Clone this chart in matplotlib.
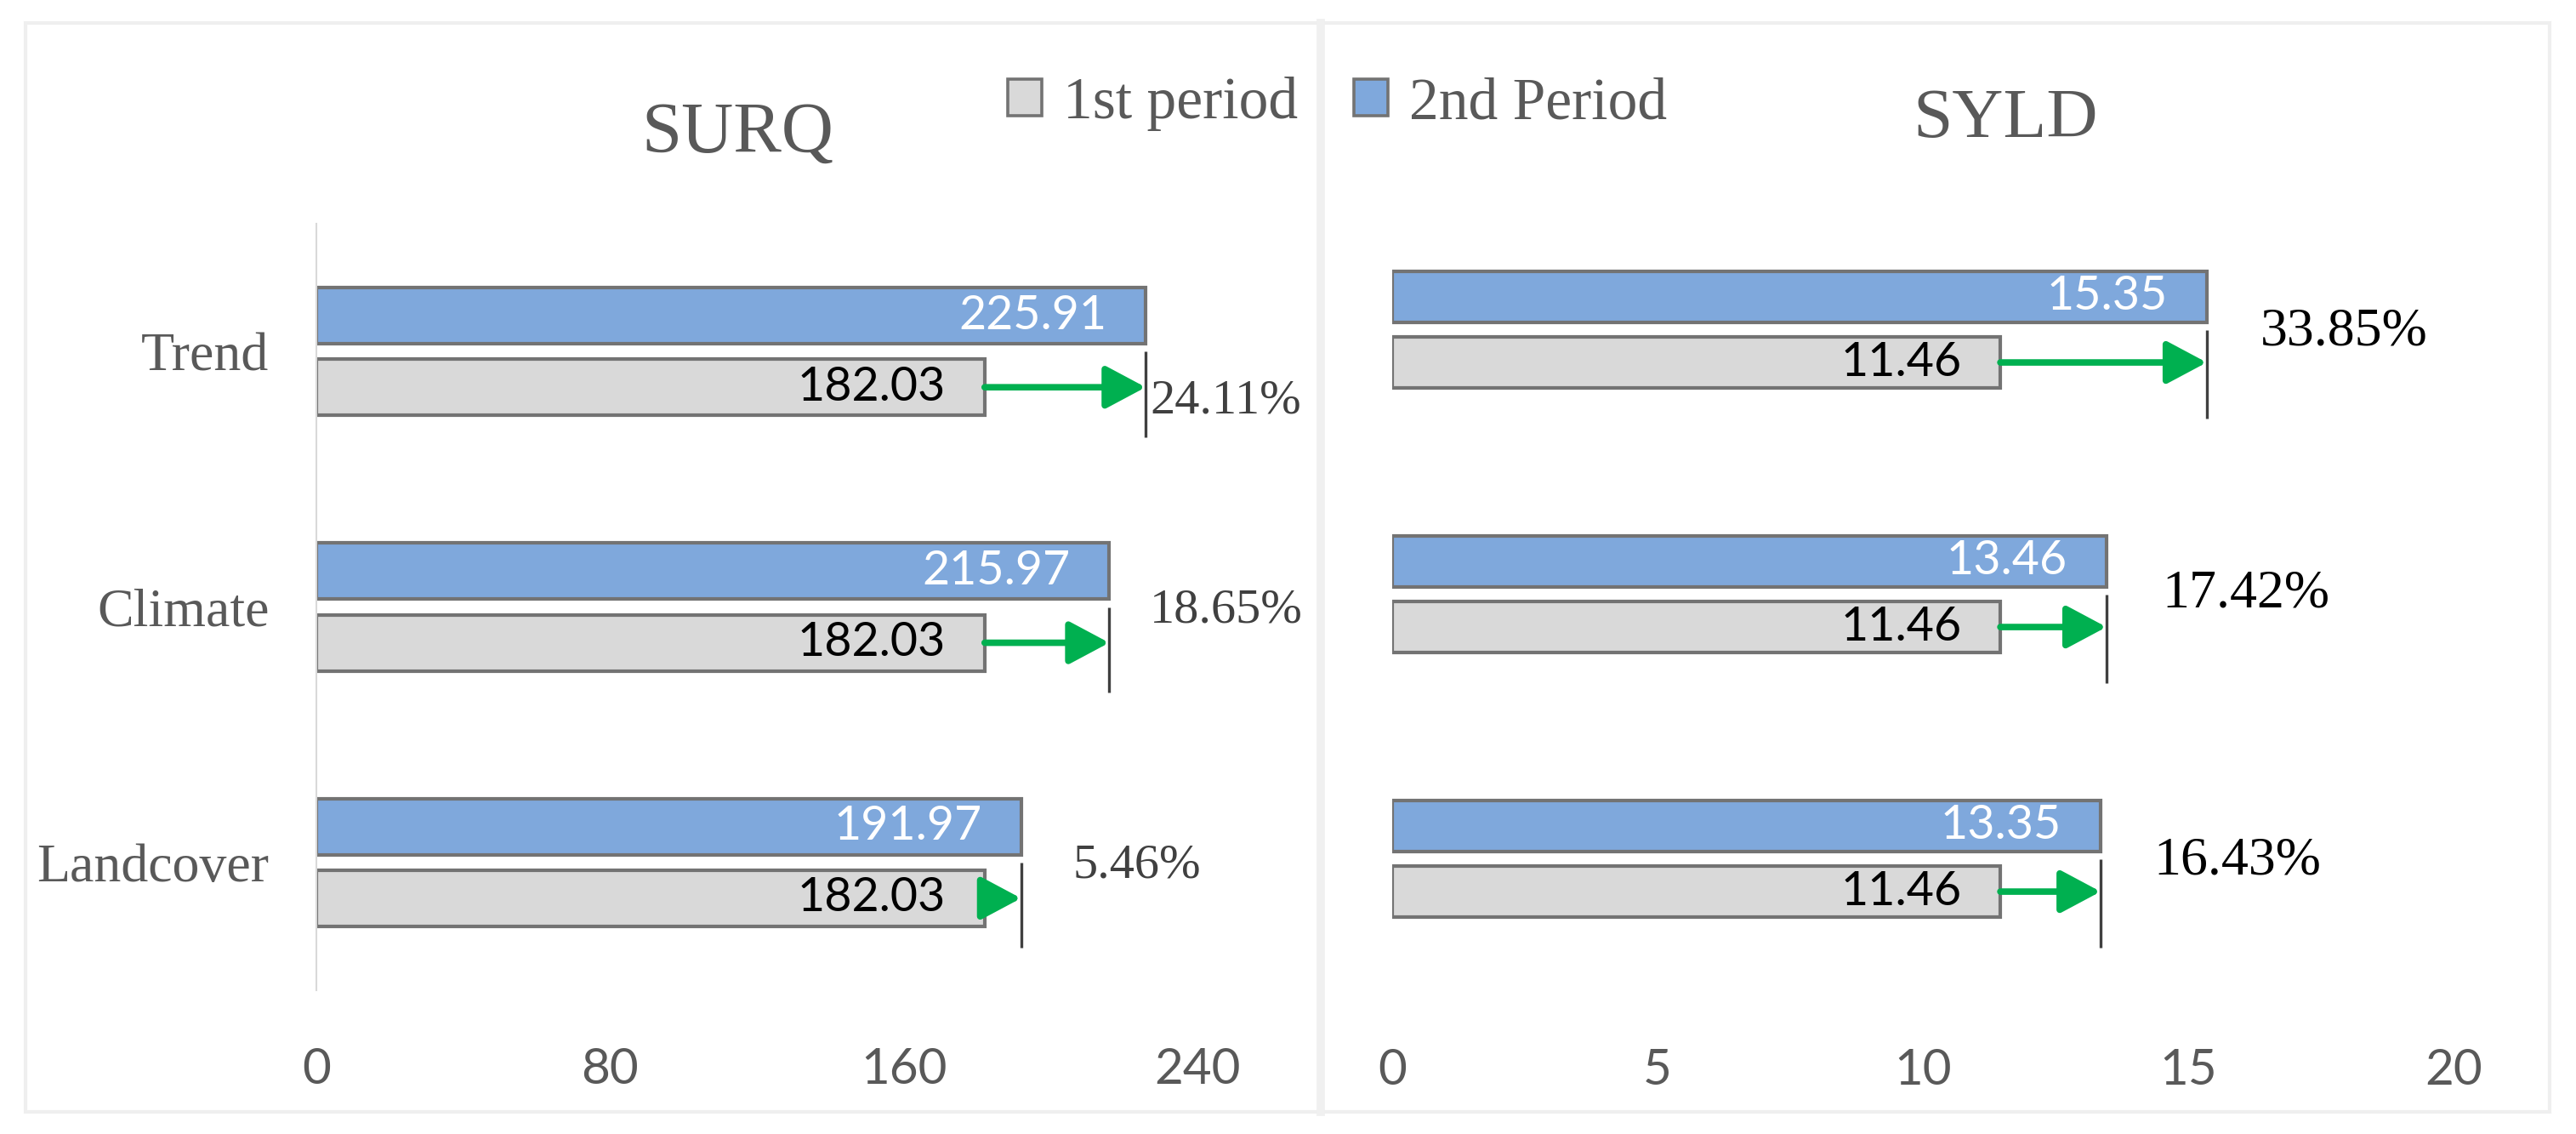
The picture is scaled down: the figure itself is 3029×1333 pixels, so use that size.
import matplotlib.pyplot as plt
from matplotlib.patches import Patch, Rectangle
from matplotlib.lines import Line2D
import numpy as np

# data
categories = ['Trend', 'Climate', 'Landcover']
surq_1st = [182.03, 182.03, 182.03]
surq_2nd = [225.91, 215.97, 191.97]
syld_1st = [11.46, 11.46, 11.46]
syld_2nd = [15.35, 13.46, 13.35]
surq_change = ['24.11%', '18.65%', '5.46%']
syld_change = ['33.85%', '17.42%', '16.43%']
surq_ticks = [0, 80, 160, 240]
syld_ticks = [0, 5, 10, 15, 20]

BLUE = '#7FA8DC'
GRAY = '#D9D9D9'
EDGE = '#737373'
GREEN = '#00B050'
TXT = '#595959'
SERIF = 'Liberation Serif'
SANS = ['Lato', 'DejaVu Sans']

W, H = 3029, 1333
fig = plt.figure(figsize=(W / 100, H / 100), dpi=100)


def fx(px):
    return px / W


def fy(py):
    return 1 - py / H


ax1 = fig.add_axes([fx(372), fy(1164), fx(1408) - fx(372), fy(263) - fy(1164)])
ax2 = fig.add_axes([fx(1637), fy(1165), fx(2885) - fx(1637), fy(232) - fy(1165)])


def draw_panel(ax, first, second, changes, xmax, ticks, bar_h, off,
               pct_pos, pct_size, pct_color):
    ypos = np.arange(len(categories))[::-1]
    ax.barh(ypos + off, second, height=bar_h, color=BLUE, edgecolor=EDGE, linewidth=3)
    ax.barh(ypos - off, first, height=bar_h, color=GRAY, edgecolor=EDGE, linewidth=3)
    for y, v1, v2, ch, (px, dy, ha) in zip(ypos, first, second, changes, pct_pos):
        ax.annotate(f'{v2:.2f}', xy=(v2, y + off), xytext=(-33, 0),
                    textcoords='offset points', ha='right', va='center',
                    family=SANS, fontsize=40, color='white')
        ax.annotate(f'{v1:.2f}', xy=(v1, y - off), xytext=(-33, 0),
                    textcoords='offset points', ha='right', va='center',
                    family=SANS, fontsize=40, color='black')
        # marker line at the 2nd period value
        ax.plot([v2, v2], [y, y - 0.335], color='#404040', lw=2.4,
                solid_capstyle='butt', clip_on=False)
        ax.annotate('', xy=(v2, y - off), xytext=(v1, y - off),
                    arrowprops=dict(arrowstyle='-|>,head_length=0.6,head_width=0.32',
                                    color=GREEN, lw=5.5, mutation_scale=48,
                                    shrinkA=0, shrinkB=0), annotation_clip=False)
        ax.text(px, y + dy, ch, ha=ha, va='center', family=SERIF,
                fontsize=pct_size, color=pct_color, clip_on=False)
    ax.set_xlim(0, xmax)
    ax.set_ylim(-0.5, len(categories) - 0.5)
    ax.set_xticks(ticks)
    ax.set_xticklabels([str(t) for t in ticks], family=SANS, fontsize=42, color=TXT)
    ax.tick_params(axis='x', length=0, pad=48)
    for s in ax.spines.values():
        s.set_visible(False)
    ax.set_facecolor('none')
    return ypos


ypos = draw_panel(ax1, surq_1st, surq_2nd, surq_change, 240, surq_ticks, 0.22, 0.14,
                  [(227.0, -0.193, 'left'), (247.9, -0.013, 'center'), (223.5, -0.013, 'center')],
                  42, '#404040')
ax1.spines['left'].set_visible(True)
ax1.spines['left'].set_color('#D9D9D9')
ax1.spines['left'].set_linewidth(1.5)
ax1.set_yticks(ypos)
ax1.set_yticklabels(categories, family=SERIF, fontsize=46, color=TXT)
ax1.tick_params(axis='y', length=0, pad=40)

draw_panel(ax2, syld_1st, syld_2nd, syld_change, 20, syld_ticks, 0.193, 0.124,
           [(17.93, -0.011, 'center'), (16.09, 0.0, 'center'), (15.93, -0.011, 'center')],
           46, 'black')
ax2.set_yticks([])

# titles
fig.text(fx(867), fy(179), 'SURQ', ha='center', va='baseline', family=SERIF,
         fontsize=61, color=TXT)
fig.text(fx(2358), fy(161), 'SYLD', ha='center', va='baseline', family=SERIF,
         fontsize=60, color=TXT)

# legend across both panels
handles = [Patch(facecolor=GRAY, edgecolor=EDGE, linewidth=2.6, label='1st period'),
           Patch(facecolor=BLUE, edgecolor=EDGE, linewidth=2.6, label='2nd Period')]
fig.legend(handles=handles, loc='center left', bbox_to_anchor=(fx(1185), fy(122)),
           ncol=2, frameon=False, borderpad=0, borderaxespad=0,
           handlelength=0.576, handleheight=0.56, handletextpad=0.36,
           columnspacing=0.95, prop={'family': SERIF, 'size': 50}, labelcolor=TXT)

# chart frames
fig.add_artist(Rectangle((fx(30), fy(1307)), fx(2998) - fx(30), fy(27) - fy(1307),
                         transform=fig.transFigure, fill=False, edgecolor='#EFEFEF', lw=3))
fig.add_artist(Line2D([fx(1553), fx(1553)], [fy(1307), fy(27)], transform=fig.transFigure,
                      color='#F0F0F0', lw=7))

fig.savefig('out.png', dpi=100, facecolor='white')
